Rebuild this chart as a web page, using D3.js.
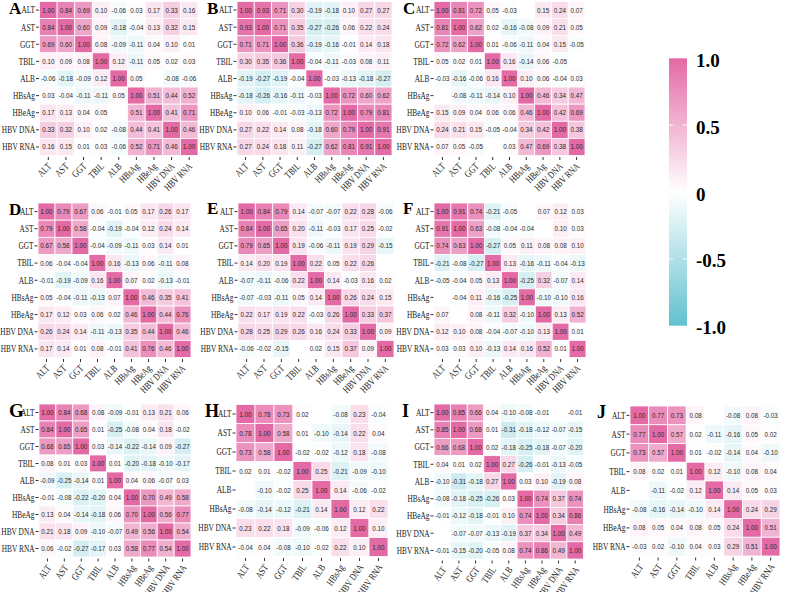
<!DOCTYPE html>
<html>
<head>
<meta charset="utf-8">
<script src="https://cdn.jsdelivr.net/npm/d3@7/dist/d3.min.js"></script>
<style>
body { margin:0; background:#fff; }
#c { width:785px; height:592px; }
.axis text { font-family:"Liberation Serif","Times New Roman",serif; fill:#222; }
.axis line { stroke:#333; }
.axis path { display:none; }
</style>
</head>
<body>
<div id="c"></div>
<script>
"use strict";

// variables (rows / columns)
const vars9 = ["ALT","AST","GGT","TBIL","ALB","HBsAg","HBeAg","HBV DNA","HBV RNA"]
const varsH = ["ALT","AST","GGT","TBIL","ALB","HBsAg","HBV DNA","HBV RNA"]
const varsJ = ["ALT","AST","GGT","TBIL","ALB","HBsAg","HBeAg","HBV RNA"]

// correlation matrices, null = blank cell
const corrA = [
  [1.00,0.84,0.69,0.10,-0.06,0.03,0.17,0.33,0.16],
  [0.84,1.00,0.60,0.09,-0.18,-0.04,0.13,0.32,0.15],
  [0.69,0.60,1.00,0.08,-0.09,-0.11,0.04,0.10,0.01],
  [0.10,0.09,0.08,1.00,0.12,-0.11,0.05,0.02,0.03],
  [-0.06,-0.18,-0.09,0.12,1.00,0.05,null,-0.08,-0.06],
  [0.03,-0.04,-0.11,-0.11,0.05,1.00,0.51,0.44,0.52],
  [0.17,0.13,0.04,0.05,null,0.51,1.00,0.41,0.71],
  [0.33,0.32,0.10,0.02,-0.08,0.44,0.41,1.00,0.46],
  [0.16,0.15,0.01,0.03,-0.06,0.52,0.71,0.46,1.00]
]
const corrB = [
  [1.00,0.93,0.71,0.30,-0.19,-0.18,0.10,0.27,0.27],
  [0.93,1.00,0.71,0.35,-0.27,-0.26,0.06,0.22,0.24],
  [0.71,0.71,1.00,0.36,-0.19,-0.16,-0.01,0.14,0.18],
  [0.30,0.35,0.36,1.00,-0.04,-0.11,-0.03,0.08,0.11],
  [-0.19,-0.27,-0.19,-0.04,1.00,-0.03,-0.13,-0.18,-0.27],
  [-0.18,-0.26,-0.16,-0.11,-0.03,1.00,0.72,0.60,0.62],
  [0.10,0.06,-0.01,-0.03,-0.13,0.72,1.00,0.79,0.81],
  [0.27,0.22,0.14,0.08,-0.18,0.60,0.79,1.00,0.91],
  [0.27,0.24,0.18,0.11,-0.27,0.62,0.81,0.91,1.00]
]
const corrC = [
  [1.00,0.81,0.72,0.05,-0.03,null,0.15,0.24,0.07],
  [0.81,1.00,0.62,0.02,-0.16,-0.08,0.09,0.21,0.05],
  [0.72,0.62,1.00,0.01,-0.06,-0.11,0.04,0.15,-0.05],
  [0.05,0.02,0.01,1.00,0.16,-0.14,0.06,-0.05,null],
  [-0.03,-0.16,-0.06,0.16,1.00,0.10,0.06,-0.04,0.03],
  [null,-0.08,-0.11,-0.14,0.10,1.00,0.46,0.34,0.47],
  [0.15,0.09,0.04,0.06,0.06,0.46,1.00,0.42,0.69],
  [0.24,0.21,0.15,-0.05,-0.04,0.34,0.42,1.00,0.38],
  [0.07,0.05,-0.05,null,0.03,0.47,0.69,0.38,1.00]
]
const corrD = [
  [1.00,0.79,0.67,0.06,-0.01,0.05,0.17,0.26,0.17],
  [0.79,1.00,0.58,-0.04,-0.19,-0.04,0.12,0.24,0.14],
  [0.67,0.58,1.00,-0.04,-0.09,-0.11,0.03,0.14,0.01],
  [0.06,-0.04,-0.04,1.00,0.16,-0.13,0.06,-0.11,0.08],
  [-0.01,-0.19,-0.09,0.16,1.00,0.07,0.02,-0.13,-0.01],
  [0.05,-0.04,-0.11,-0.13,0.07,1.00,0.46,0.35,0.41],
  [0.17,0.12,0.03,0.06,0.02,0.46,1.00,0.44,0.76],
  [0.26,0.24,0.14,-0.11,-0.13,0.35,0.44,1.00,0.46],
  [0.17,0.14,0.01,0.08,-0.01,0.41,0.76,0.46,1.00]
]
const corrE = [
  [1.00,0.84,0.79,0.14,-0.07,-0.07,0.22,0.28,-0.06],
  [0.84,1.00,0.65,0.20,-0.11,-0.03,0.17,0.25,-0.02],
  [0.79,0.65,1.00,0.19,-0.06,-0.11,0.19,0.29,-0.15],
  [0.14,0.20,0.19,1.00,0.22,0.05,0.22,0.26,null],
  [-0.07,-0.11,-0.06,0.22,1.00,0.14,-0.03,0.16,0.02],
  [-0.07,-0.03,-0.11,0.05,0.14,1.00,0.26,0.24,0.15],
  [0.22,0.17,0.19,0.22,-0.03,0.26,1.00,0.33,0.37],
  [0.28,0.25,0.29,0.26,0.16,0.24,0.33,1.00,0.09],
  [-0.06,-0.02,-0.15,null,0.02,0.15,0.37,0.09,1.00]
]
const corrF = [
  [1.00,0.91,0.74,-0.21,-0.05,null,0.07,0.12,0.03],
  [0.91,1.00,0.63,-0.08,-0.04,-0.04,null,0.10,0.03],
  [0.74,0.63,1.00,-0.27,0.05,0.11,0.08,0.08,0.10],
  [-0.21,-0.08,-0.27,1.00,0.13,-0.16,-0.11,-0.04,-0.13],
  [-0.05,-0.04,0.05,0.13,1.00,-0.25,0.32,-0.07,0.14],
  [null,-0.04,0.11,-0.16,-0.25,1.00,-0.10,-0.10,0.16],
  [0.07,null,0.08,-0.11,0.32,-0.10,1.00,0.13,0.52],
  [0.12,0.10,0.08,-0.04,-0.07,-0.10,0.13,1.00,0.01],
  [0.03,0.03,0.10,-0.13,0.14,0.16,0.52,0.01,1.00]
]
const corrG = [
  [1.00,0.84,0.68,0.08,-0.09,-0.01,0.13,0.21,0.06],
  [0.84,1.00,0.65,0.01,-0.25,-0.08,0.04,0.18,-0.02],
  [0.68,0.65,1.00,0.03,-0.14,-0.22,-0.14,0.09,-0.27],
  [0.08,0.01,0.03,1.00,0.01,-0.20,-0.18,-0.10,-0.17],
  [-0.09,-0.25,-0.14,0.01,1.00,0.04,0.06,-0.07,0.03],
  [-0.01,-0.08,-0.22,-0.20,0.04,1.00,0.70,0.49,0.58],
  [0.13,0.04,-0.14,-0.18,0.06,0.70,1.00,0.56,0.77],
  [0.21,0.18,0.09,-0.10,-0.07,0.49,0.56,1.00,0.54],
  [0.06,-0.02,-0.27,-0.17,0.03,0.58,0.77,0.54,1.00]
]
const corrH = [
  [1.00,0.78,0.73,0.02,null,-0.08,0.23,-0.04],
  [0.78,1.00,0.58,0.01,-0.10,-0.14,0.22,0.04],
  [0.73,0.58,1.00,-0.02,-0.02,-0.12,0.18,-0.08],
  [0.02,0.01,-0.02,1.00,0.25,-0.21,-0.09,-0.10],
  [null,-0.10,-0.02,0.25,1.00,0.14,-0.06,-0.02],
  [-0.08,-0.14,-0.12,-0.21,0.14,1.00,0.12,0.22],
  [0.23,0.22,0.18,-0.09,-0.06,0.12,1.00,0.10],
  [-0.04,0.04,-0.08,-0.10,-0.02,0.22,0.10,1.00]
]
const corrI = [
  [1.00,0.85,0.66,0.04,-0.10,-0.08,-0.01,null,-0.01],
  [0.85,1.00,0.68,0.01,-0.31,-0.18,-0.12,-0.07,-0.15],
  [0.66,0.68,1.00,0.02,-0.18,-0.25,-0.18,-0.07,-0.20],
  [0.04,0.01,0.02,1.00,0.27,-0.26,-0.01,-0.13,-0.05],
  [-0.10,-0.31,-0.18,0.27,1.00,0.03,0.10,-0.19,0.08],
  [-0.08,-0.18,-0.25,-0.26,0.03,1.00,0.74,0.37,0.74],
  [-0.01,-0.12,-0.18,-0.01,0.10,0.74,1.00,0.34,0.86],
  [null,-0.07,-0.07,-0.13,-0.19,0.37,0.34,1.00,0.49],
  [-0.01,-0.15,-0.20,-0.05,0.08,0.74,0.86,0.49,1.00]
]
const corrJ = [
  [1.00,0.77,0.73,0.08,null,-0.08,0.08,-0.03],
  [0.77,1.00,0.57,0.02,-0.11,-0.16,0.05,0.02],
  [0.73,0.57,1.00,0.01,-0.02,-0.14,0.04,-0.10],
  [0.08,0.02,0.01,1.00,0.12,-0.10,0.08,0.04],
  [null,-0.11,-0.02,0.12,1.00,0.14,0.05,0.03],
  [-0.08,-0.16,-0.14,-0.10,0.14,1.00,0.24,0.29],
  [0.08,0.05,0.04,0.08,0.05,0.24,1.00,0.51],
  [-0.03,0.02,-0.10,0.04,0.03,0.29,0.51,1.00]
]

const legendTicks = [1.0, 0.5, 0, -0.5, -1.0]
const legendLabels = ["1.0","0.5","0","-0.5","-1.0"]

// panel placement: grid box, letter position
const panels = [
  {id:"A", vars:vars9, corr:corrA, x0:39.5, x1:198, y0:1.5, y1:155.5, lx:9, ly:14, fs:17, rot:-45},
  {id:"B", vars:vars9, corr:corrB, x0:237, x1:392, y0:1.5, y1:155.5, lx:207, ly:14, fs:17, rot:-45},
  {id:"C", vars:vars9, corr:corrC, x0:434, x1:585, y0:1.5, y1:155.5, lx:403, ly:14, fs:17, rot:-45},
  {id:"D", vars:vars9, corr:corrD, x0:38, x1:191, y0:203, y1:357.5, lx:9, ly:215, fs:17, rot:-45},
  {id:"E", vars:vars9, corr:corrE, x0:238, x1:394, y0:203, y1:357.5, lx:207, ly:214, fs:17, rot:-45},
  {id:"F", vars:vars9, corr:corrF, x0:434, x1:586, y0:203, y1:357.5, lx:403, ly:214, fs:17, rot:-45},
  {id:"G", vars:vars9, corr:corrG, x0:39, x1:191, y0:404, y1:557, lx:9, ly:417, fs:19, rot:-55},
  {id:"H", vars:varsH, corr:corrH, x0:236, x1:388, y0:404.5, y1:556.5, lx:205, ly:417, fs:18, rot:-55},
  {id:"I", vars:vars9, corr:corrI, x0:434, x1:583.5, y0:404, y1:559, lx:402, ly:417, fs:18, rot:-55},
  {id:"J", vars:varsJ, corr:corrJ, x0:630, x1:780, y0:406, y1:556, lx:597, ly:418, fs:18, rot:-55}
]

const color = d3.scaleLinear()
    .domain([-1, 0, 1])
    .range(["#62c1cf", "#ffffff", "#e46aa6"])

let svg

window.onload = function() {
    svg = d3.select('#c').append('svg')
        .attr('width', 785).attr('height', 592)
    panels.forEach(drawPanel)
    drawLegend()
}

// labels in the figure are horizontally squeezed
function squeeze(sel, k) {
    sel.each(function() {
        const w = this.getComputedTextLength()
        d3.select(this)
            .attr('textLength', w*k)
            .attr('lengthAdjust', 'spacingAndGlyphs')
    })
}

function drawPanel(p) {
    const x = d3.scaleBand().domain(p.vars).range([p.x0, p.x1])
    const y = d3.scaleBand().domain(p.vars).range([p.y0, p.y1])
    const g = svg.append('g')

    let cells = []
    p.corr.forEach((row, i) => row.forEach((v, j) => {
        cells.push({r:p.vars[i], c:p.vars[j], v:v})
    }))

    g.selectAll('rect')
        .data(cells)
        .enter()
        .append('rect')
            .attr('x', d => x(d.c))
            .attr('y', d => y(d.r))
            .attr('width', x.bandwidth())
            .attr('height', y.bandwidth())
            .attr('fill', d => d.v == null ? '#fff' : color(d.v))
            .attr('stroke', '#fff')
            .attr('stroke-width', 0.8)

    g.selectAll('text.val')
        .data(cells.filter(d => d.v != null))
        .enter()
        .append('text')
            .attr('class', 'val')
            .attr('x', d => x(d.c) + x.bandwidth()/2)
            .attr('y', d => y(d.r) + y.bandwidth()/2)
            .attr('text-anchor', 'middle')
            .attr('dominant-baseline', 'central')
            .style('font-family', '"Liberation Sans", Arial, sans-serif')
            .style('font-size', '6.3px')
            .style('fill', '#2a2a2a')
            .text(d => d.v.toFixed(2))

    // axes
    let yt = g.append('g')
        .attr('class', 'axis')
        .attr('transform', 'translate(' + (p.x0 - 0.5) + ',0)')
        .call(d3.axisLeft(y).tickSize(3).tickPadding(1))
        .selectAll('text')
            .style('font-size', '10.5px')
    squeeze(yt, 0.7)

    let xt = g.append('g')
        .attr('class', 'axis')
        .attr('transform', 'translate(0,' + (p.y1 + 1.5) + ')')
        .call(d3.axisBottom(x).tickSize(3).tickPadding(2))
        .selectAll('text')
            .style('font-size', '10px')
            .attr('text-anchor', 'end')
            .attr('dy', '0.6em')
            .attr('dx', '-0.1em')
            .attr('transform', 'rotate(' + p.rot + ',0,5)')
    squeeze(xt, 0.78)

    svg.append('text')
        .attr('x', p.lx).attr('y', p.ly)
        .style('font-family', '"Liberation Serif","Times New Roman",serif')
        .style('font-weight', 'bold')
        .style('font-size', p.fs + 'px')
        .text(p.id)
}

function drawLegend() {
    const yScale = d3.scaleLinear().domain([-1, 1]).range([325.7, 58.3])
    const defs = svg.append('defs')
    const grad = defs.append('linearGradient')
        .attr('id', 'grad')
        .attr('x1', 0).attr('y1', 1).attr('x2', 0).attr('y2', 0)
    d3.range(0, 1.0001, 0.1).forEach(t => {
        grad.append('stop')
            .attr('offset', t)
            .attr('stop-color', color(-1 + 2*t))
    })
    svg.append('rect')
        .attr('x', 669).attr('y', yScale(1))
        .attr('width', 18).attr('height', yScale(-1) - yScale(1))
        .attr('fill', 'url(#grad)')

    const lg = svg.append('g')
    legendTicks.filter(v => Math.abs(v) < 1).forEach(v => {
        lg.append('line')
            .attr('x1', 669).attr('x2', 673)
            .attr('y1', yScale(v)).attr('y2', yScale(v))
            .attr('stroke', '#fff').attr('stroke-width', 1)
        lg.append('line')
            .attr('x1', 683).attr('x2', 687)
            .attr('y1', yScale(v)).attr('y2', yScale(v))
            .attr('stroke', '#fff').attr('stroke-width', 1)
    })
    lg.selectAll('text')
        .data(legendTicks)
        .enter()
        .append('text')
            .attr('x', 696)
            .attr('y', d => yScale(d) + 2)
            .attr('dominant-baseline', 'central')
            .style('font-family', '"Liberation Serif","Times New Roman",serif')
            .style('font-weight', 'bold')
            .style('font-size', '19px')
            .text((d, i) => legendLabels[i])
}
</script>
</body>
</html>
